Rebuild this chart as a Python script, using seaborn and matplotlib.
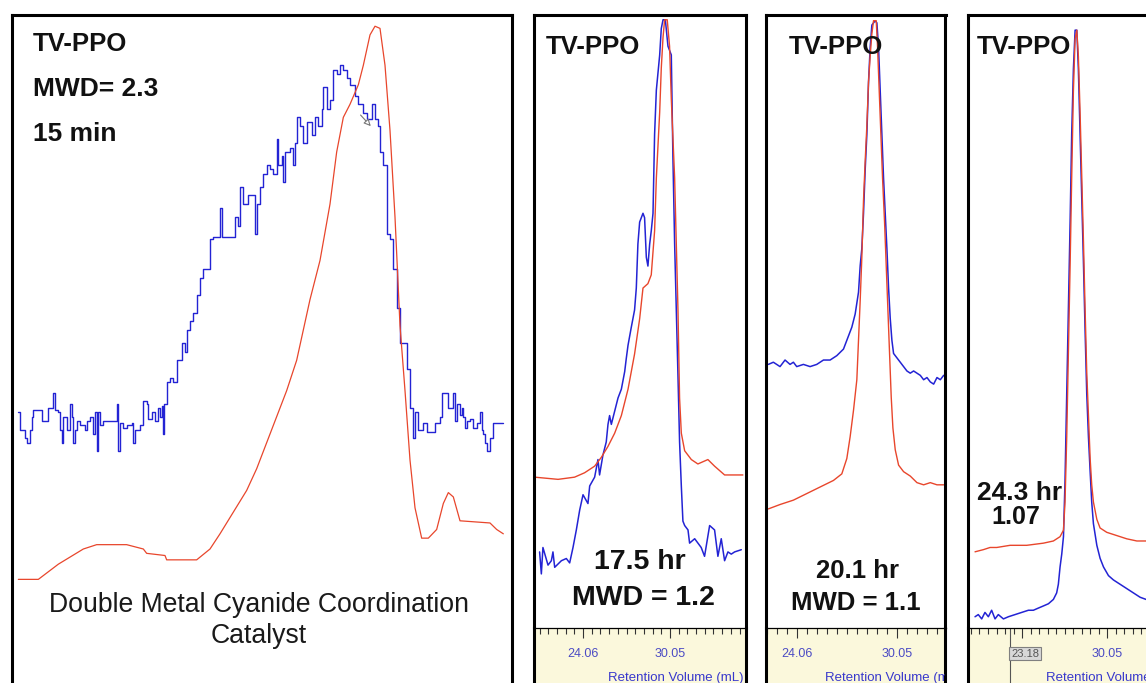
import numpy as np
import pandas as pd
import matplotlib
matplotlib.use('Agg')
import matplotlib.pyplot as plt
from matplotlib.ticker import FixedLocator, FixedFormatter
import seaborn as sns

sns.set_theme(style='white')
plt.rcParams['font.family'] = ['Liberation Sans', 'DejaVu Sans']

W, H = 1146, 683
BLUE = '#2323d4'
RED = '#e8462c'

# ---------------- data ----------------
# Panel 1: 15 min, arbitrary elution position vs detector response
p1_red = [(5.5, 6.5), (11.5, 6.5), (17.5, 10), (25, 13.5), (29, 14.5), (38, 14.5), (43, 13.5),
          (44, 12.5), (49.5, 12), (50, 11), (59, 11), (63, 13.5), (66, 17), (70, 22), (74, 27),
          (77, 32), (80, 38), (83, 44), (86, 50), (89, 57), (91, 64), (93, 71), (96, 80), (99, 93),
          (101, 105), (103, 113), (105, 116), (107.5, 120.5), (109, 125), (111, 132), (112.5, 134),
          (114, 133.5), (115.5, 125), (117, 110), (118.5, 90), (120, 65), (121.5, 50), (123, 34),
          (124.5, 23), (126.5, 16), (128.5, 16), (131, 18), (133, 24), (134.5, 26.5), (136, 25.5),
          (138, 20), (147, 19.5), (149, 18), (151, 17)]
p1_blue = [(5.5, 45), (6, 41), (7.5, 39), (8, 38), (9, 41), (9.5, 44), (10, 45.5), (12, 45.5),
           (12.5, 43), (14, 43), (14.5, 46), (15.5, 46), (16, 49.5), (16.5, 45.5), (17.5, 45),
           (18, 41), (18.5, 38), (19, 44), (20, 41), (21, 47), (21.5, 44), (22, 38), (22.5, 41),
           (23, 43), (24, 42), (25.5, 41), (26, 43), (27, 44), (28, 40), (28.5, 45), (29, 36),
           (29.5, 45), (30, 42), (31, 43), (34.5, 43), (35, 47), (35.5, 36), (36, 42.5), (37, 41.5),
           (38, 42), (39.5, 42.5), (40, 38), (40.5, 41), (42, 42), (43, 47.5), (44, 47), (44.5, 43.5),
           (45.5, 45), (46.5, 43), (47.5, 46), (48, 44), (48.5, 46.5), (49, 40), (49.2, 47),
           (50, 52), (51, 53), (52, 52), (53, 57), (54.5, 61), (55.5, 59), (56, 64), (57, 66),
           (58, 68), (59, 72), (60, 76), (61, 78), (62, 78), (63, 85), (64, 85.5), (65.5, 85.5),
           (66, 92), (66.5, 85.5), (70, 85.5), (70.5, 90), (71.5, 88), (72, 97), (73, 93), (74, 93),
           (74.5, 95), (76, 95), (76.5, 86), (77, 93), (78, 97), (79, 100), (80, 102), (81, 101),
           (82, 100), (83, 108), (83.5, 102), (84.5, 104), (85, 98), (85.5, 105), (87, 106),
           (88, 102), (88.5, 107), (89, 113), (90, 111), (91, 107), (92, 112), (93.5, 109),
           (94.5, 113), (95.5, 111), (96.5, 115), (97, 120), (98, 115), (99, 117), (100, 124),
           (101, 123), (102, 125), (103, 124), (104, 122), (105, 120.5), (106.5, 118), (107.5, 116),
           (109, 114), (110, 112.5), (111.5, 116), (112.5, 112.5), (113.5, 111), (114, 105),
           (115, 102), (116, 86), (117, 85), (118, 78), (119, 69), (120, 61), (121.5, 61), (122, 55),
           (123, 46), (124, 39), (124.5, 45), (125.5, 41), (127, 42.5), (128, 40.5), (130, 40.5),
           (130.5, 42.5), (132, 44), (132.5, 49.5), (134, 49.5), (134.5, 46), (135.5, 46),
           (136, 49.5), (136.5, 43), (137, 47), (138, 44.5), (138.5, 46), (139, 44), (139.5, 41.5),
           (140, 43), (141, 43.5), (142, 41.5), (143, 42.5), (144, 45), (144.5, 41), (145, 40),
           (145.5, 38), (146, 36), (147, 39), (148, 42.5), (151, 42.5)]

# Panel 2: 17.5 hr, retention volume (mL) vs response
p2_red = [(20.73, 32), (22.34, 31.5), (23.48, 32), (24.17, 33), (24.86, 34.5), (25.32, 36.5),
          (25.78, 39), (26.24, 42), (26.70, 46), (27.16, 52), (27.61, 60), (27.96, 68), (28.19, 75),
          (28.53, 76), (28.76, 78), (28.99, 88), (29.11, 100), (29.34, 115), (29.45, 125),
          (29.57, 132), (29.68, 136), (29.86, 136), (30.02, 130), (30.14, 118), (30.37, 100),
          (30.60, 70), (30.71, 50), (30.83, 42), (31.06, 38), (31.52, 36), (31.97, 35), (32.66, 36),
          (33.12, 34.5), (33.81, 32.5), (35.07, 32.5)]
p2_blue = [(21.07, 15), (21.19, 10), (21.30, 16), (21.65, 12), (21.88, 13), (21.99, 15), (22.11, 11.5),
           (22.57, 13), (22.91, 13.5), (23.14, 12.5), (23.37, 16), (23.60, 20), (23.83, 24.5),
           (24.06, 28), (24.40, 26), (24.52, 30), (24.86, 32), (25.09, 36), (25.20, 32.5),
           (25.43, 37), (25.66, 40), (25.78, 44), (25.89, 46), (26.01, 44), (26.24, 47), (26.47, 50),
           (26.70, 52), (26.93, 56), (27.04, 59), (27.16, 62), (27.38, 66), (27.61, 70), (27.73, 75),
           (27.84, 85), (27.96, 90), (28.19, 92), (28.30, 91), (28.42, 82), (28.53, 80), (28.65, 85),
           (28.76, 88), (28.88, 92), (28.99, 110), (29.11, 120), (29.34, 128), (29.45, 134),
           (29.57, 136), (29.73, 136), (29.91, 130), (30.14, 128), (30.25, 105), (30.37, 85),
           (30.60, 55), (30.71, 40), (30.83, 30), (30.94, 22), (31.06, 21), (31.29, 20), (31.40, 17),
           (31.75, 18), (32.20, 16), (32.43, 14), (32.78, 21), (33.12, 20), (33.35, 14), (33.58, 18),
           (33.81, 13), (34.04, 15), (34.27, 14.5), (34.50, 15), (34.96, 15.5)]

# Panel 3: 20.1 hr
p3_red = [(22.34, 24.5), (23.04, 25.5), (23.84, 26.5), (24.64, 28), (25.44, 29.5), (26.24, 31),
          (26.74, 32.5), (27.04, 36), (27.24, 41), (27.44, 47), (27.64, 54), (27.74, 63), (27.84, 72),
          (27.94, 82), (28.04, 95), (28.14, 104), (28.24, 112), (28.34, 122), (28.44, 128),
          (28.54, 133), (28.64, 136), (28.80, 136), (28.88, 130), (28.98, 120), (29.08, 110),
          (29.18, 100), (29.30, 90), (29.40, 80), (29.50, 70), (29.60, 60), (29.70, 50), (29.80, 43),
          (29.94, 38), (30.14, 34.5), (30.44, 33), (30.84, 32), (31.24, 30.5), (31.64, 30),
          (32.04, 30.5), (32.44, 30), (32.84, 30)]
p3_blue = [(22.34, 57.5), (22.64, 58), (23.04, 57), (23.34, 58.5), (23.64, 57.5), (23.84, 58),
           (24.04, 57), (24.44, 57.5), (24.84, 57), (25.24, 57.5), (25.64, 58.5), (26.04, 58.5),
           (26.44, 59.5), (26.84, 61), (27.04, 63), (27.34, 66), (27.54, 69), (27.74, 74), (27.84, 80),
           (27.94, 84), (28.04, 92), (28.14, 102), (28.24, 110), (28.34, 122), (28.44, 130),
           (28.54, 135), (28.64, 135.5), (28.74, 136), (28.84, 135.5), (28.94, 130), (29.04, 120),
           (29.14, 110), (29.24, 100), (29.34, 92), (29.44, 84), (29.54, 75), (29.64, 68), (29.74, 63),
           (29.84, 60), (30.04, 59), (30.24, 58), (30.44, 57), (30.64, 56), (30.84, 55.5), (31.04, 56),
           (31.24, 55.5), (31.44, 55), (31.64, 54), (31.84, 54.5), (32.04, 53.5), (32.24, 53),
           (32.44, 54.5), (32.64, 54), (32.84, 55)]

# Panel 4: 24.3 hr
p4_red = [(20.75, 13.5), (21.34, 14), (21.81, 14.5), (22.28, 14.5), (23.22, 15), (24.39, 15),
          (25.57, 15.5), (26.27, 16), (26.74, 17), (26.98, 18.5), (27.09, 25), (27.21, 40),
          (27.33, 60), (27.45, 80), (27.56, 100), (27.68, 120), (27.80, 132), (27.92, 134),
          (28.03, 128), (28.15, 115), (28.27, 100), (28.39, 85), (28.50, 70), (28.62, 55),
          (28.74, 45), (28.86, 35), (28.97, 29), (29.09, 25), (29.33, 21), (29.56, 19), (30.03, 18),
          (30.50, 17.5), (30.97, 17), (31.44, 16.5), (32.15, 16), (32.80, 16)]
p4_blue = [(20.75, -1.5), (20.98, -1), (21.22, -2), (21.45, -0.5), (21.69, -1.5), (21.92, 0),
           (22.16, -2), (22.39, -1), (22.75, -2), (23.10, -1.5), (23.57, -1), (24.04, -0.5),
           (24.51, 0), (24.86, 0), (25.21, 0.5), (25.57, 1), (25.92, 1.5), (26.27, 2.5), (26.50, 4),
           (26.62, 6), (26.74, 10), (26.86, 13), (26.98, 17), (27.09, 30), (27.21, 50), (27.33, 70),
           (27.45, 90), (27.56, 110), (27.68, 125), (27.80, 134), (27.92, 134), (28.03, 125),
           (28.15, 110), (28.27, 95), (28.39, 80), (28.50, 65), (28.62, 50), (28.74, 40), (28.86, 32),
           (28.97, 25), (29.09, 20), (29.33, 15), (29.56, 12), (29.80, 10), (30.15, 8), (30.50, 7),
           (30.97, 6), (31.44, 5), (31.91, 4), (32.38, 3), (32.80, 2.5)]

major_ticks = [24.06, 30.05]
major_labels = ['24.06', '30.05']
major_labels_cursor = ['', '30.05']   # 24.06 is hidden behind the cursor box
minor_step = 0.599
axis_label = 'Retention Volume (mL)'
cursor_value = 23.21
cursor_label = '23.18'

# ---------------- layout helpers ----------------
fig = plt.figure(figsize=(W / 100, H / 100), dpi=100)
fig.patch.set_facecolor('white')


def box(l, r, t, b):
    return [l / W, 1 - b / H, (r - l) / W, (b - t) / H]


def ftext(x, y, s, **kw):
    fig.text(x / W, 1 - y / H, s, **kw)


def trace(ax, pts, color, lw, steps=None):
    df = pd.DataFrame(pts, columns=['x', 'y'])
    kw = dict(drawstyle=steps) if steps else {}
    sns.lineplot(data=df, x='x', y='y', ax=ax, color=color, lw=lw, sort=False,
                 estimator=None, **kw)
    ax.set_xlabel('')
    ax.set_ylabel('')


def frame(ax, lw=2.2, bottom=True):
    for side, sp in ax.spines.items():
        sp.set_color('black')
        sp.set_linewidth(lw)
    if not bottom:
        ax.spines['bottom'].set_visible(False)
    ax.set_xticks([])
    ax.set_yticks([])


bold = dict(fontweight='bold', color='#111111')

# ---------------- panel 1 ----------------
a1 = fig.add_axes(box(11.5, 511.5, 14.5, 690))
trace(a1, p1_blue, BLUE, 1.0, steps='steps-post')
trace(a1, p1_red, RED, 0.9)
a1.set_xlim(3.45, 153.45)
a1.set_ylim(-19, 136.7)
frame(a1)
a1.annotate('', xy=(111.8, 110.5), xytext=(107.6, 114),
            arrowprops=dict(arrowstyle='-|>', color='#777777', lw=0.8, fc='white',
                            mutation_scale=10))
ftext(33, 44, 'TV-PPO', fontsize=18.5, ha='left', va='center', **bold)
ftext(33, 89, 'MWD= 2.3', fontsize=19, ha='left', va='center', **bold)
ftext(33, 134, '15 min', fontsize=19, ha='left', va='center', **bold)
ftext(259, 605, 'Double Metal Cyanide Coordination', fontsize=19.2, ha='center', va='center',
      color='#1a1a1a')
ftext(259, 636, 'Catalyst', fontsize=19.2, ha='center', va='center', color='#1a1a1a')


# ---------------- panels 2-4 ----------------
def strip(l, r, xlim, cursor=False):
    s = fig.add_axes(box(l, r, 628, 692))
    s.set_facecolor('#fbf8dc')
    s.set_xlim(*xlim)
    s.set_ylim(0, 1)
    s.set_yticks([])
    minors = [major_ticks[0] + k * minor_step for k in range(-8, 20)]
    s.xaxis.set_major_locator(FixedLocator(major_ticks))
    s.xaxis.set_major_formatter(FixedFormatter(major_labels_cursor if cursor else major_labels))
    s.xaxis.set_minor_locator(FixedLocator(minors))
    s.tick_params(axis='x', which='both', top=True, bottom=False, labeltop=True,
                  labelbottom=False, direction='in', color='#333333', labelcolor='#4b4bc4',
                  width=0.8, labelsize=9, pad=-23)
    s.tick_params(axis='x', which='major', length=7)
    s.tick_params(axis='x', which='minor', length=4)
    for side, sp in s.spines.items():
        sp.set_color('black')
        sp.set_linewidth(2.2)
    s.spines['top'].set_linewidth(0.9)
    s.spines['bottom'].set_visible(False)
    s.text(25.75, 0.22, axis_label, fontsize=9.5, color='#3838cc', ha='left', va='center',
           clip_on=True)
    if cursor:
        s.axvline(cursor_value, color='#555555', lw=0.8)
        s.text(cursor_value + 0.08, 0.6, cursor_label, fontsize=8, color='#555555', ha='left',
               va='center', zorder=5,
               bbox=dict(boxstyle='square,pad=0.15', facecolor='#d8d8d8', edgecolor='#808080',
                         lw=0.8))
    return s


panels = [
    dict(l=533.5, r=745.5, t=14.5, xlim=(20.65, 35.25), ylim=(-2.3, 137.2), red=p2_red, blue=p2_blue),
    dict(l=765.5, r=945.5, t=15, xlim=(22.17, 32.95), ylim=(-2.7, 137.3), red=p3_red, blue=p3_blue),
    dict(l=967.5, r=1160, t=15, xlim=(20.22, 33.78), ylim=(-4.1, 137.5), red=p4_red, blue=p4_blue),
]
axes = []
for i, p in enumerate(panels):
    ax = fig.add_axes(box(p['l'], p['r'], p['t'], 628))
    trace(ax, p['blue'], BLUE, 1.1)
    trace(ax, p['red'], RED, 1.0)
    ax.set_xlim(*p['xlim'])
    ax.set_ylim(*p['ylim'])
    frame(ax, bottom=False)
    strip(p['l'], p['r'], p['xlim'], cursor=(i == 2))
    axes.append(ax)

ftext(546, 47, 'TV-PPO', fontsize=18.5, ha='left', va='center', **bold)
ftext(640, 562, '17.5 hr', fontsize=20.5, ha='center', va='center', **bold)
ftext(643, 598, 'MWD = 1.2', fontsize=20.5, ha='center', va='center', **bold)

ftext(789, 47, 'TV-PPO', fontsize=18.5, ha='left', va='center', **bold)
ftext(857, 571, '20.1 hr', fontsize=18.5, ha='center', va='center', **bold)
ftext(856, 603, 'MWD = 1.1', fontsize=18.5, ha='center', va='center', **bold)

ftext(977, 47, 'TV-PPO', fontsize=18.5, ha='left', va='center', **bold)
ftext(1020, 493, '24.3 hr', fontsize=19, ha='center', va='center', **bold)
ftext(1016, 517, '1.07', fontsize=18, ha='center', va='center', **bold)

fig.savefig('out.png', dpi=100, facecolor='white')
